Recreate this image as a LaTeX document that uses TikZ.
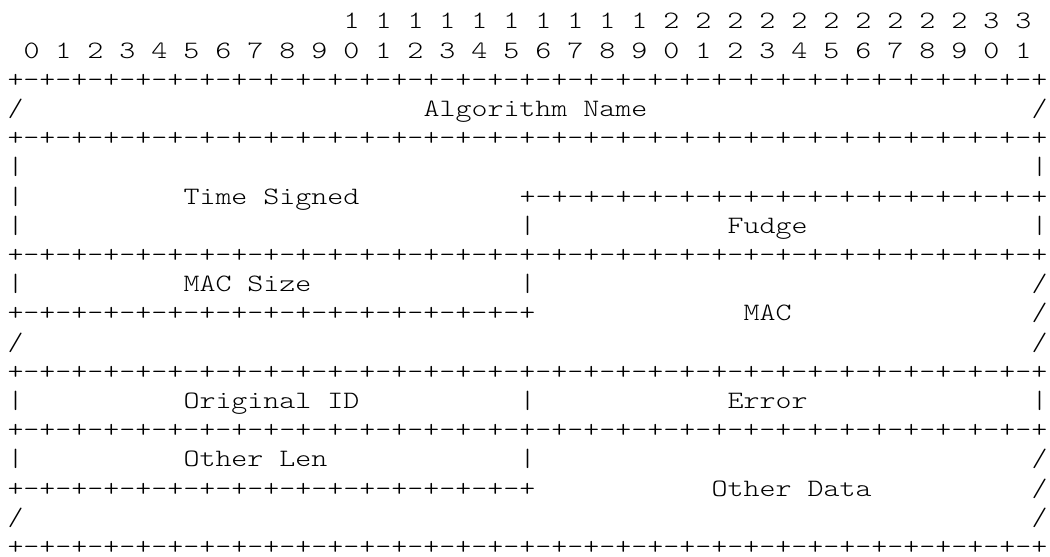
\documentclass[tikz,border=0pt]{standalone}
\usepackage{fontspec}
\newfontfamily\asciifont{Latin Modern Mono Light}[FakeStretch=1.219]
\tikzset{asc/.style={inner sep=0pt, outer sep=0pt, anchor=base west, text=black,
  font={\asciifont\fontsize{25pt}{29.2pt}\selectfont}}}
\newcommand\txtat[4]{\node[asc] (#1) at ({7.5+16*#2},{28.8+29.2*(#3-1)}) {#4};}
\newcommand\fullrow{+-+-+-+-+-+-+-+-+-+-+-+-+-+-+-+-+-+-+-+-+-+-+-+-+-+-+-+-+-+-+-+-+}
\newcommand\halfrow{+-+-+-+-+-+-+-+-+-+-+-+-+-+-+-+-+}
\begin{document}
\begin{tikzpicture}[x=1pt,y=-1pt]
\useasboundingbox[fill=white] (0,0) rectangle (1050,557);
\txtat{bitsA}{21}{1}{1 1 1 1 1 1 1 1 1 1 2 2 2 2 2 2 2 2 2 2 3 3}
\txtat{bitsB}{1}{2}{0 1 2 3 4 5 6 7 8 9 0 1 2 3 4 5 6 7 8 9 0 1 2 3 4 5 6 7 8 9 0 1}
\txtat{b3}{0}{3}{\fullrow}
\txtat{l4}{0}{4}{/}
\txtat{alg}{26}{4}{Algorithm Name}
\txtat{r4}{64}{4}{/}
\txtat{b5}{0}{5}{\fullrow}
\txtat{l6}{0}{6}{|}
\txtat{r6}{64}{6}{|}
\txtat{l7}{0}{7}{|}
\txtat{time}{11}{7}{Time Signed}
\txtat{h7}{32}{7}{\halfrow}
\txtat{l8}{0}{8}{|}
\txtat{m8}{32}{8}{|}
\txtat{fudge}{45}{8}{Fudge}
\txtat{r8}{64}{8}{|}
\txtat{b9}{0}{9}{\fullrow}
\txtat{l10}{0}{10}{|}
\txtat{macsize}{11}{10}{MAC Size}
\txtat{m10}{32}{10}{|}
\txtat{r10}{64}{10}{/}
\txtat{h11}{0}{11}{\halfrow}
\txtat{mac}{46}{11}{MAC}
\txtat{r11}{64}{11}{/}
\txtat{l12}{0}{12}{/}
\txtat{r12}{64}{12}{/}
\txtat{b13}{0}{13}{\fullrow}
\txtat{l14}{0}{14}{|}
\txtat{origid}{11}{14}{Original ID}
\txtat{m14}{32}{14}{|}
\txtat{error}{45}{14}{Error}
\txtat{r14}{64}{14}{|}
\txtat{b15}{0}{15}{\fullrow}
\txtat{l16}{0}{16}{|}
\txtat{otherlen}{11}{16}{Other Len}
\txtat{m16}{32}{16}{|}
\txtat{r16}{64}{16}{/}
\txtat{h17}{0}{17}{\halfrow}
\txtat{otherdata}{44}{17}{Other Data}
\txtat{r17}{64}{17}{/}
\txtat{l18}{0}{18}{/}
\txtat{r18}{64}{18}{/}
\txtat{b19}{0}{19}{\fullrow}
\end{tikzpicture}
\end{document}
